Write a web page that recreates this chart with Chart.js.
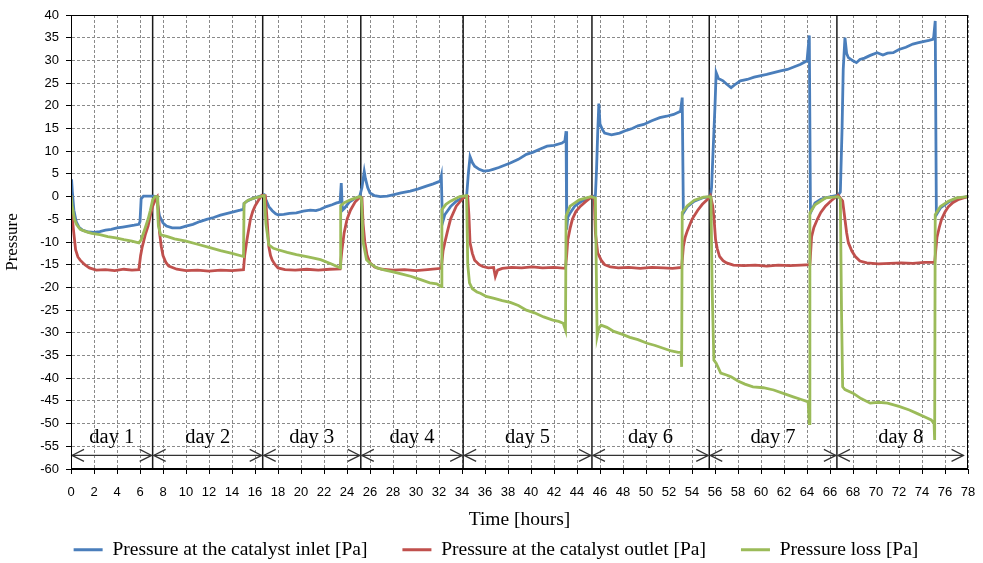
<!DOCTYPE html>
<html>
<head>
<meta charset="utf-8">
<title>Pressure</title>
<script src="https://cdn.jsdelivr.net/npm/chart.js@4.4.1/dist/chart.umd.min.js"></script>
<style>
html, body { margin: 0; padding: 0; background: #fff; }
</style>
</head>
<body>
<canvas id="myChart" width="983" height="563"></canvas>
<script>
const ID_GRAFICO = "myChart";

// [hour, Pa]
const inletPoints = [
  [0,0.5],[0.05,3.8],[0.12,1],[0.25,-3],[0.45,-5.5],[0.7,-6.8],[1.0,-7.4],[1.5,-7.8],[2.0,-7.9],[2.5,-7.7],[3.0,-7.4],[3.5,-7.2],[4.0,-6.9],[4.5,-6.7],[5.0,-6.5],[5.5,-6.3],[5.9,-6.1],[6.0,-5.5],[6.1,-0.5],[6.3,0.1],[6.8,0.1],[7.2,0.1],[7.4,0],
  [7.55,-2],[7.7,-4.3],[8.0,-5.8],[8.3,-6.5],[8.8,-6.9],[9.5,-6.9],[10.0,-6.5],[10.6,-6.1],[11.2,-5.5],[11.8,-5.0],[12.4,-4.6],[13.0,-4.1],[13.6,-3.7],[14.2,-3.3],[14.7,-3.0],[15.0,-2.8],[15.05,-1.5],[15.3,-1.0],[15.7,-0.5],[16.2,-0.1],[16.6,0.2],
  [16.8,0.4],[17.0,-1],[17.2,-2.2],[17.5,-3.1],[17.8,-3.8],[18.0,-4.0],[18.5,-3.9],[19.0,-3.7],[19.6,-3.6],[20.2,-3.2],[20.8,-3.0],[21.3,-3.1],[21.7,-2.8],[22.2,-2.2],[22.7,-1.8],[23.1,-1.4],[23.4,-1.2],[23.5,3],[23.6,-3],[23.8,-2.5],[24.2,-1.2],[24.7,-0.4],[25.1,0],
  [25.3,2],[25.5,5.5],[25.6,4],[25.8,2],[26.0,0.8],[26.4,0.2],[26.9,0],[27.5,0.1],[28.0,0.4],[28.7,0.8],[29.5,1.2],[30.2,1.7],[30.9,2.3],[31.5,2.8],[32.1,3.4],[32.2,4.5],[32.3,-5.8],[32.5,-4],[33.0,-2.2],[33.5,-1],[34.1,-0.2],
  [34.4,0],[34.55,5],[34.7,8.8],[34.9,7.5],[35.1,6.7],[35.5,6],[35.9,5.6],[36.3,5.7],[36.7,6],[37.2,6.4],[37.7,6.9],[38.2,7.4],[38.9,8.2],[39.6,9.3],[40.2,9.8],[40.8,10.5],[41.4,11.1],[42.0,11.3],[42.7,11.8],[42.95,12.3],[43.05,14.4],[43.1,-7.3],[43.2,-4.5],[43.4,-3.6],[43.8,-2.1],[44.3,-1.2],[44.7,-0.7],[45.3,0],
  [45.6,0.2],[45.7,6],[45.8,14],[45.9,20.5],[46.0,16],[46.2,14.8],[46.4,14],[47.0,13.6],[47.7,14],[48.3,14.6],[48.8,15],[49.3,15.6],[49.8,15.9],[50.5,16.7],[51.2,17.4],[51.8,17.7],[52.4,18.1],[53.0,18.8],[53.15,21.8],[53.25,-3.6],[53.6,-2.2],[54.2,-1],[55.0,-0.2],[55.6,0],
  [55.7,2],[55.8,8],[55.9,14],[56.0,20],[56.1,27.3],[56.3,26],[56.7,25.5],[57.0,24.8],[57.4,24],[57.8,24.8],[58.2,25.5],[58.8,25.8],[59.4,26.3],[59.9,26.6],[60.5,26.9],[61.1,27.3],[61.7,27.7],[62.3,28],[62.9,28.6],[63.4,29.1],[64.0,29.9],[64.2,35.5],[64.3,-3.6],[64.7,-1.4],[65.2,-0.6],[65.6,-0.3],[66.7,0.3],
  [66.9,1],[67.05,15],[67.15,28],[67.3,35],[67.45,31.5],[67.6,30.6],[68.0,29.9],[68.3,29.5],[68.6,30.2],[69.0,30.5],[69.5,31.1],[70.1,31.7],[70.6,31.2],[71.0,31.6],[71.5,31.7],[72.0,32.4],[72.6,32.9],[73.2,33.6],[73.7,33.9],[74.2,34.2],[74.6,34.4],[75.0,34.7],[75.15,38.7],[75.25,-4],[75.6,-2.5],[76.3,-1.2],[77.0,-0.4],[78,0]
];

const outletPoints = [
  [0,0.3],[0.1,-4],[0.2,-7],[0.4,-11.7],[0.6,-13.3],[0.8,-14],[1.2,-15],[1.6,-15.7],[2.2,-16.2],[3,-16.1],[3.8,-16.3],[4.6,-16.0],[5.3,-16.2],[5.9,-16.1],[6.05,-13],[6.2,-11],[6.45,-8.5],[6.7,-6.5],[6.9,-4.2],[7.1,-2.1],[7.4,-0.3],[7.5,0],
  [7.6,-3],[7.7,-8],[7.85,-11],[8.0,-13],[8.25,-14.5],[8.5,-15.3],[9.2,-16],[10,-16.3],[11,-16.2],[12,-16.4],[13,-16.2],[14,-16.3],[15,-16.1],[15.1,-13],[15.3,-9.5],[15.6,-5],[15.8,-3.3],[16.0,-2.1],[16.3,-0.8],[16.6,0.3],
  [16.9,0.2],[17.05,-5],[17.2,-11],[17.35,-13],[17.5,-14],[17.75,-15],[18.0,-15.7],[18.6,-16.1],[19.5,-16.2],[20.5,-16.0],[21.5,-16.2],[22.5,-16.0],[23.4,-15.9],[23.55,-12],[23.75,-8],[24.0,-5],[24.3,-3],[24.7,-1.2],[25.1,-0.2],
  [25.3,-0.3],[25.4,-6],[25.55,-10],[25.75,-13],[26.0,-14.6],[26.4,-15.5],[27.0,-16],[28,-16.2],[29,-16.1],[30,-16.3],[31,-16.1],[32.2,-15.8],[32.35,-12],[32.5,-10.2],[32.75,-7.5],[33.0,-5],[33.5,-2.1],[34.1,-0.3],[34.5,0],
  [34.6,-4],[34.7,-10.2],[34.9,-12.5],[35.1,-14],[35.5,-15],[35.8,-15.4],[36.3,-15.7],[36.75,-15.6],[36.9,-17.6],[37.1,-16.2],[37.5,-15.8],[38.3,-15.6],[39.2,-15.7],[40.1,-15.5],[41,-15.7],[42,-15.6],[43.0,-15.8],[43.1,-13],[43.2,-9.5],[43.4,-7],[43.6,-5],[43.9,-3.3],[44.3,-2.1],[44.8,-1],[45.3,0],
  [45.5,-0.5],[45.6,-8],[45.8,-12.4],[46.1,-14],[46.4,-15],[46.9,-15.5],[47.6,-15.7],[48.5,-15.6],[49.5,-15.8],[50.5,-15.6],[51.5,-15.7],[52.3,-15.8],[53.1,-15.6],[53.25,-11],[53.4,-9],[53.6,-7.5],[54.0,-5],[54.5,-3],[54.9,-1.7],[55.4,-0.5],[55.6,0.2],
  [55.8,-2],[55.95,-6],[56.05,-9.5],[56.2,-11.5],[56.4,-13.2],[56.7,-14.1],[57.0,-14.6],[57.6,-15.1],[58.5,-15.2],[59.5,-15.1],[60.5,-15.3],[61.5,-15.1],[62.5,-15.2],[63.5,-15.1],[64.25,-15],[64.4,-8.8],[64.6,-6.8],[64.9,-5],[65.2,-3.5],[65.6,-2.1],[66.1,-0.9],[66.7,0.3],
  [67.1,-1],[67.3,-5],[67.45,-8],[67.6,-10.2],[67.9,-12],[68.2,-13.2],[68.6,-14.2],[69.2,-14.6],[70.2,-14.8],[71.2,-14.7],[72.2,-14.6],[73.2,-14.7],[74.2,-14.5],[75.1,-14.5],[75.3,-9],[75.5,-6.8],[75.7,-5],[76.0,-3.4],[76.3,-2.2],[76.7,-1.3],[77.2,-0.6],[78,0]
];

const lossPoints = [
  [0,0.3],[0.1,-2],[0.3,-5],[0.5,-6.2],[0.8,-7.2],[1.3,-7.7],[1.8,-8.1],[2.5,-8.4],[3.2,-8.8],[3.9,-9.1],[4.6,-9.5],[5.3,-9.8],[5.9,-10.2],[6.1,-9.5],[6.4,-7.3],[6.7,-5],[6.9,-3],[7.1,-0.7],[7.3,0],
  [7.5,0],[7.55,-4],[7.6,-6.5],[7.8,-8.4],[8.4,-8.8],[9.0,-9.3],[10,-9.8],[11,-10.5],[12,-11.2],[13,-11.9],[14,-12.5],[15,-13.2],[15.05,-1.5],[15.4,-0.8],[16.0,-0.3],[16.6,0.1],
  [16.8,0.2],[16.95,-6],[17.2,-10.6],[17.6,-11.4],[18,-11.7],[18.8,-12.3],[19.6,-12.8],[20.6,-13.3],[21.7,-13.9],[22.6,-14.8],[23.4,-15.7],[23.45,-2],[23.8,-1.3],[24.4,-0.6],[25.1,0],
  [25.25,-0.3],[25.4,-10],[25.7,-13.9],[26.1,-14.9],[26.6,-15.7],[27.3,-16.2],[28,-16.6],[28.8,-17.1],[29.6,-17.6],[30.4,-18.3],[31.2,-19],[31.8,-19.2],[32.2,-19.8],[32.25,-2.9],[32.6,-1.7],[33.0,-1],[33.8,0],[34.4,0.2],
  [34.5,-15],[34.65,-19],[34.9,-20.3],[35.3,-21],[35.6,-21.3],[36.1,-22],[36.8,-22.4],[37.5,-22.9],[38.2,-23.3],[38.9,-24],[39.6,-25],[40.3,-25.6],[41.1,-26.5],[41.9,-27.2],[42.4,-27.5],[42.8,-27.9],[43.0,-29.4],[43.05,-4.3],[43.4,-2.1],[44.2,-0.7],[45.2,0],
  [45.6,-0.3],[45.75,-30.8],[45.9,-29],[46.1,-28.3],[46.6,-28.8],[47.2,-29.7],[47.9,-30.3],[48.6,-31],[49.3,-31.5],[50.1,-32.3],[50.8,-32.8],[51.5,-33.4],[52.2,-34],[52.8,-34.3],[53.05,-34.2],[53.1,-37.5],[53.15,-3.5],[53.6,-2],[54.2,-0.8],[55.0,-0.1],[55.6,0],
  [55.65,-0.5],[55.75,-20],[55.9,-36],[56.1,-36.7],[56.5,-38.9],[57.0,-39.3],[57.4,-39.7],[58.0,-40.6],[58.6,-41.3],[59.3,-41.9],[60.2,-42.1],[61.1,-42.6],[62.0,-43.4],[62.8,-44.1],[63.5,-44.7],[64.1,-45.2],[64.2,-50],[64.25,-3.6],[64.7,-1.8],[65.6,-0.3],[66.7,0],
  [66.9,-0.5],[67.0,-25],[67.1,-41.9],[67.3,-42.5],[68,-43.3],[68.7,-44.5],[69.5,-45.5],[70.2,-45.3],[71.0,-45.5],[72.0,-46.2],[72.9,-47],[73.6,-47.8],[74.3,-48.6],[74.8,-49.2],[75.05,-50],[75.1,-53.6],[75.15,-4],[75.6,-2.2],[76.3,-1],[77.0,-0.3],[78,0]
];

const seriesNames = ["Pressure at the catalyst inlet [Pa]", "Pressure at the catalyst outlet [Pa]", "Pressure loss [Pa]"];
const dayNames = ["day 1", "day 2", "day 3", "day 4", "day 5", "day 6", "day 7", "day 8"];
const dayEdges = [7.1, 16.67, 25.2, 34.1, 45.3, 55.5, 66.6];   // hours where a new day starts
const lastArrowEnd = 77.7;
const ARROW_Y = -57;
const DAY_LABEL_Y = -53;

const SERIF = "'Liberation Serif', 'Times New Roman', serif";
const NARROW = "'Liberation Sans Narrow', 'Liberation Sans', Arial, sans-serif";

window.addEventListener("DOMContentLoaded", main);

function toXY(pairs){
    return pairs.map(p => ({x: p[0], y: p[1]}));
}

function arrowHead(ctx, x, y, dir){
    ctx.beginPath();
    ctx.moveTo(x + dir * 12, y - 6);
    ctx.lineTo(x, y);
    ctx.lineTo(x + dir * 12, y + 6);
    ctx.stroke();
}

const diasPlugin = {
    id: "dias",
    afterLayout(chart){
        // legend sits a bit right of centre in the original
        chart.legend.left += 12;
        chart.legend.right += 12;
    },
    beforeDatasetsDraw(chart){
        const {ctx, chartArea, scales} = chart;
        const x = scales.x, y = scales.y;
        ctx.save();
        // day boundaries
        ctx.strokeStyle = "#1a1a1a";
        ctx.lineWidth = 1.5;
        for (const h of dayEdges){
            const px = x.getPixelForValue(h);
            ctx.beginPath();
            ctx.moveTo(px, chartArea.top);
            ctx.lineTo(px, chartArea.bottom);
            ctx.stroke();
        }
        // arrows + labels
        const starts = [0, ...dayEdges];
        const ends = [...dayEdges, lastArrowEnd];
        const ay = y.getPixelForValue(ARROW_Y);
        const ly = y.getPixelForValue(DAY_LABEL_Y);
        ctx.strokeStyle = "#333";
        ctx.lineWidth = 1.2;
        ctx.fillStyle = "#000";
        ctx.font = "20.5px " + SERIF;
        ctx.textAlign = "center";
        ctx.textBaseline = "middle";
        for (let i = 0; i < starts.length; i++){
            const x0 = x.getPixelForValue(starts[i]) + 1;
            const x1 = x.getPixelForValue(ends[i]) - 1;
            ctx.beginPath();
            ctx.moveTo(x0, ay);
            ctx.lineTo(x1, ay);
            ctx.stroke();
            arrowHead(ctx, x0, ay, 1);
            arrowHead(ctx, x1, ay, -1);
            ctx.fillText(dayNames[i], (x0 + x1) / 2, ly);
        }
        ctx.restore();
    },
    afterDraw(chart){
        const {ctx, chartArea} = chart;
        ctx.save();
        ctx.strokeStyle = "#000";
        ctx.lineWidth = 1;
        ctx.strokeRect(chartArea.left + 0.5, chartArea.top + 0.5, chartArea.right - chartArea.left - 1, chartArea.bottom - chartArea.top - 1);
        ctx.restore();
    }
};

function main(){
    const ctx = document.getElementById(ID_GRAFICO).getContext("2d");
    const common = {borderWidth: 2.8, pointRadius: 0, tension: 0, fill: false};

    new Chart(ctx, {
        type: "line",
        data: {
            datasets: [
                {...common, label: seriesNames[0], data: toXY(inletPoints), borderColor: "#4a7ebb", backgroundColor: "#4a7ebb", order: 2},
                {...common, label: seriesNames[1], data: toXY(outletPoints), borderColor: "#c0504d", backgroundColor: "#c0504d", order: 1},
                {...common, label: seriesNames[2], data: toXY(lossPoints), borderColor: "#9bbb59", backgroundColor: "#9bbb59", order: 0}
            ]
        },
        options: {
            responsive: false,
            animation: false,
            devicePixelRatio: 1,
            // legend is tall because its padding also spaces the items; push it a little past the bottom
            layout: {padding: {top: 15, right: 15, left: 0, bottom: -6.5}},
            plugins: {
                tooltip: {enabled: false},
                legend: {
                    position: "bottom",
                    labels: {
                        usePointStyle: true,
                        pointStyle: "line",
                        pointStyleWidth: 29,
                        boxHeight: 19.5,
                        color: "#000",
                        font: {family: SERIF, size: 19.5},
                        padding: 35,
                        sort: (a, b) => a.datasetIndex - b.datasetIndex
                    }
                }
            },
            scales: {
                x: {
                    type: "linear",
                    min: 0, max: 78,
                    afterFit: s => { s.height = 36; s.paddingRight = 0; },
                    ticks: {stepSize: 2, autoSkip: false, maxRotation: 0, color: "#000", font: {family: NARROW, size: 13}, padding: 11},
                    grid: {color: "#8a8a8a", lineWidth: 1, tickLength: 5, tickColor: "#000", tickBorderDash: []},
                    border: {color: "#000", width: 1, dash: [3, 2]},
                    title: {display: true, text: "Time [hours]", color: "#000", font: {family: SERIF, size: 19.5}, padding: {top: 0, bottom: -27}}
                },
                y: {
                    min: -60, max: 40,
                    afterFit: s => { s.width = 71; },
                    ticks: {stepSize: 5, color: "#000", font: {family: NARROW, size: 13}, padding: 7},
                    grid: {color: "#8a8a8a", lineWidth: 1, tickLength: 5, tickColor: "#000", tickBorderDash: []},
                    border: {color: "#000", width: 1, dash: [3, 2]},
                    title: {display: true, text: "Pressure", color: "#000", font: {family: SERIF, size: 17}, padding: {top: 2, bottom: 0}}
                }
            }
        },
        plugins: [diasPlugin]
    });
}
</script>
</body>
</html>
